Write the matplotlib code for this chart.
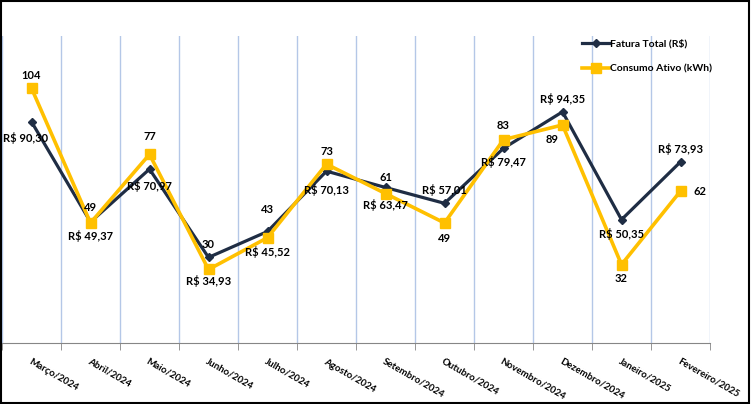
import numpy as np
import matplotlib
matplotlib.use("Agg")
import matplotlib.pyplot as plt
from matplotlib.patches import Rectangle

months = ["Março/2024", "Abril/2024", "Maio/2024", "Junho/2024", "Julho/2024",
          "Agosto/2024", "Setembro/2024", "Outubro/2024", "Novembro/2024",
          "Dezembro/2024", "Janeiro/2025", "Fevereiro/2025"]
fatura = [90.30, 49.37, 70.97, 34.93, 45.52, 70.13, 63.47, 57.01, 79.47, 94.35, 50.35, 73.93]
consumo = [104, 49, 77, 30, 43, 73, 61, 49, 83, 89, 32, 62]

# label placement (pixel offsets) for each point
fat_off = [(-6, -16), (0, -14), (0, -17), (0, -24), (0, -21), (0, -19),
           (0, -18), (0, 13), (0, -14), (0, 13), (0, -14), (0, 13)]
con_off = [(0, 13), (0, 15), (0, 18), (0, 25), (0, 28), (0, 13),
           (0, 16), (0, -16), (0, 14), (-10, -15), (0, -14), (20, 0)]

plt.rcParams['font.family'] = ['Lato', 'DejaVu Sans']

navy = '#1f2d44'
gold = '#ffc000'

fig = plt.figure(figsize=(7.51, 4.04), dpi=100)
# white background with a thin black frame round the whole chart
fig.add_artist(Rectangle((0, 0), 1, 1, transform=fig.transFigure,
                         facecolor='white', edgecolor='none', zorder=-10))
fig.add_artist(Rectangle((0.001, 0.002), 0.997, 0.995, transform=fig.transFigure,
                         fill=False, edgecolor='black', lw=1.5, zorder=10))
ax = fig.add_axes([2/751, 61/404, 708/751, 307/404])
ax.set_facecolor('white')

x = np.arange(len(months))
ax.plot(x, fatura, color=navy, lw=2.3, marker='D', ms=4.5, label='Fatura Total (R$)', zorder=3)
ax.plot(x, consumo, color=gold, lw=2.6, marker='s', ms=7, label='Consumo Ativo (kWh)', zorder=4)

for i, v in enumerate(fatura):
    ax.annotate("R$ " + f"{v:.2f}".replace('.', ','), (x[i], v), xytext=fat_off[i],
                textcoords='offset pixels', ha='center', va='center',
                fontsize=8, fontweight='bold', zorder=5)
for i, v in enumerate(consumo):
    ax.annotate(str(v), (x[i], v), xytext=con_off[i],
                textcoords='offset pixels', ha='center', va='center',
                fontsize=8, fontweight='bold', zorder=5)

ax.set_xlim(-0.5, len(months) - 0.5)
ax.set_ylim(0, 125.3)
ax.set_yticks([])
ax.set_xticks(np.arange(-0.5, len(months)), minor=True)
ax.set_xticks(x)
ax.set_xticklabels(months, rotation=-30, ha='left', va='top', rotation_mode='anchor',
                   fontsize=7, fontweight='bold')
ax.tick_params(axis='x', which='major', length=0, pad=10)
ax.tick_params(axis='x', which='minor', length=5, color='#868686')
ax.grid(True, axis='x', which='minor', color='#b4c7e7', lw=1)
for s in ['top', 'right', 'left']:
    ax.spines[s].set_visible(False)
ax.spines['bottom'].set_color('#868686')

fig.legend(loc='upper left', bbox_to_anchor=(573/751, 1 - 30/404), frameon=False,
           labelspacing=1.5, handlelength=2.6, handletextpad=0.1,
           prop={'weight': 'bold', 'size': 7.5})

fig.savefig("out.png", dpi=100, facecolor='white')
